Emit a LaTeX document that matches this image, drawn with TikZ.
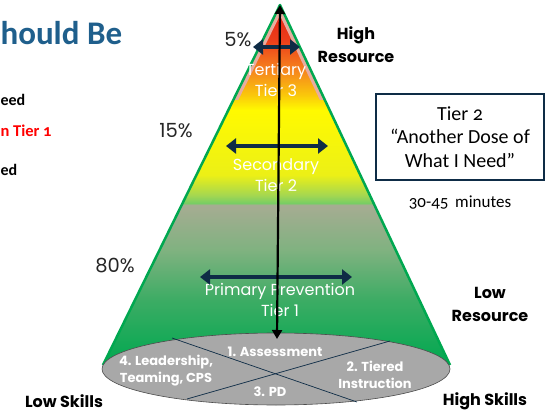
\documentclass[tikz,border=0pt]{standalone}
\usepackage{fontspec}
\setmainfont{Carlito}[Numbers=OldStyle]
\newfontfamily\gothic{Poppins}
\usetikzlibrary{arrows.meta,positioning,calc,shapes.geometric}

\definecolor{navy}{RGB}{14,44,70}
\definecolor{titleblue}{RGB}{31,95,140}
\definecolor{conegreen}{RGB}{0,168,80}
\definecolor{basegray}{RGB}{168,168,168}
\definecolor{pinkrim}{RGB}{232,172,160}
% tier colours, top to bottom
\definecolor{tA}{RGB}{226,32,22}
\definecolor{tB}{RGB}{236,62,26}
\definecolor{tC}{RGB}{246,132,30}
\definecolor{tD}{RGB}{250,200,10}
\definecolor{tE}{RGB}{255,250,0}
\definecolor{tF}{RGB}{236,240,22}
\definecolor{tG}{RGB}{165,215,80}
\definecolor{tH}{RGB}{120,205,100}
\definecolor{tI}{RGB}{166,172,146}
\definecolor{tJ}{RGB}{128,178,128}
\definecolor{tK}{RGB}{60,172,100}

\pgfdeclareverticalshading{tiers}{100bp}{
  color(0bp)=(conegreen); color(25bp)=(conegreen); color(34bp)=(tK);
  color(41bp)=(tJ); color(47.2bp)=(tI); color(47.5bp)=(tH);
  color(48.6bp)=(tG); color(51.4bp)=(tF); color(60.4bp)=(tE);
  color(62.5bp)=(tD); color(66bp)=(tC); color(70.1bp)=(tB);
  color(75bp)=(tA); color(100bp)=(tA)}

\tikzset{
  tierlabel/.style={text=white, align=center, font=\gothic\fontsize{16}{21}\selectfont},
  pct/.style={font=\gothic\fontsize{19.5}{22}\selectfont, text=black!85},
  side/.style={align=center, font=\gothic\bfseries\fontsize{16}{23}\selectfont},
  basetext/.style={text=white, align=center, font=\gothic\bfseries\fontsize{13}{17}\selectfont},
  spread/.style={navy, line width=3.5pt, {Triangle[length=10pt,width=15pt]}-{Triangle[length=10pt,width=15pt]}},
}

\begin{document}
\begin{tikzpicture}[>=Stealth, x=1pt, y=-1pt]
    \useasboundingbox (0,0) rectangle (554,414);

    % Left-hand slide text (cut off)
    \node[anchor=west, text=titleblue, font=\bfseries\fontsize{33}{34}\selectfont] (title) at (-3,33) {hould Be};
    \node[anchor=west, font=\bfseries\fontsize{16}{18}\selectfont] (needA) at (-3,100) {eed};
    \node[anchor=west, text=red, font=\bfseries\fontsize{16.5}{18}\selectfont] (tierone) at (-3,131) {n Tier 1};
    \node[anchor=west, font=\bfseries\fontsize{16}{18}\selectfont] (needB) at (-3,170) {ed};

    % Cone
    \coordinate (apex) at (280,5);
    \coordinate (coneL) at (103,365);
    \coordinate (coneR) at (450,365);
    \shade[shading=tiers] (apex) -- (coneL) -- (coneR) -- cycle;
    \begin{scope}
        \clip (apex) -- (coneL) -- (coneR) -- cycle;
        \clip (0,0) rectangle (554,100);
        \draw[pinkrim, line width=9pt] (coneL) -- (apex) -- (coneR);
    \end{scope}
    \draw[conegreen, line width=2.5pt, line join=round] (coneL) -- (apex) -- (coneR);

    % Base
    \node[ellipse, draw=black!70, fill=basegray, line width=0.6pt,
          minimum width=348pt, minimum height=72pt, inner sep=0pt] (base) at (276,369) {};
    \coordinate (xA1) at (172,338);
    \coordinate (xA2) at (357,402);
    \coordinate (xB1) at (187,399);
    \coordinate (xB2) at (390,341);
    \draw[navy, line width=0.7pt] (xA1) -- (xA2);
    \draw[navy, line width=0.7pt] (xB1) -- (xB2);
    \node[basetext] (assess) at (275,352) {1. Assessment};
    \node[basetext] (tiered) at (375,375) {2. Tiered\\Instruction};
    \node[basetext] (pd) at (270,392) {3. PD};
    \node[basetext] (lead) at (166,371) {4. Leadership,\\Teaming, CPS};

    % Tier labels
    \node[tierlabel] (tier3) at (276,80) {Tertiary\\Tier 3};
    \node[tierlabel] (tier2) at (276,175) {Secondary\\Tier 2};
    \node[tierlabel] (tier1) at (280,300) {Primary Prevention\\Tier 1};

    % Arrows
    \coordinate (topL) at (253,47);
    \coordinate (topR) at (300,47);
    \coordinate (midL) at (226,146);
    \coordinate (midR) at (328,146);
    \coordinate (lowL) at (200,277);
    \coordinate (lowR) at (352,277);
    \coordinate (foot) at (277,339);
    \draw[spread] (topL) -- (topR);
    \draw[spread] (midL) -- (midR);
    \draw[spread] (lowL) -- (lowR);
    \draw[black, line width=2.2pt, {Triangle[length=9pt,width=10pt]}-{Triangle[length=9pt,width=10pt]}] (apex) -- (foot);

    % Percentages
    \node[pct] (p5) at (238,40) {5\%};
    \node[pct] (p15) at (176,131) {15\%};
    \node[pct] (p80) at (115,266) {80\%};

    % Side labels
    \node[side] (highres) at (356,45) {High\\Resource};
    \node[side] (lowres) at (490,304) {Low\\Resource};
    \node[side] (lowskill) at (64,401) {Low Skills};
    \node[side] (highskill) at (485,401) {High Skills};

    % Tier 2 box
    \node[draw=navy, line width=1.3pt, minimum width=168pt, minimum height=86pt, align=center,
          font=\fontsize{20}{23.5}\selectfont] (dosebox) at (460,137) {Tier 2\\“Another Dose of\\What I Need”};
    \node[font=\fontsize{17}{18}\selectfont, below=12pt of dosebox] (minutes) {30-45\, minutes};
\end{tikzpicture}
\end{document}
